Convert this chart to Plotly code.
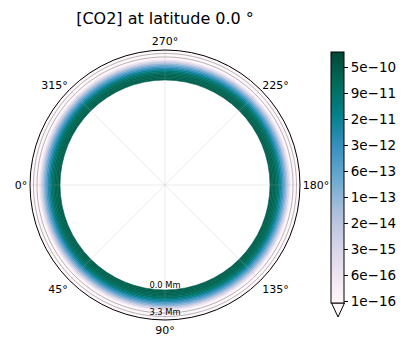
import numpy as np
import plotly.graph_objects as go

# ---- data ----
altitude_mm = [0.0, 0.2, 0.4, 0.6, 0.8, 1.0, 1.2, 1.4, 1.6, 1.8, 2.0,
               2.2, 2.4, 2.6, 2.8, 3.0, 3.2, 3.4, 3.6, 3.8, 4.0, 4.2]
co2_conc = [3.5e-10, 3.3e-10, 3.0e-10, 2.6e-10, 2.0e-10, 1.2e-10, 5e-11,
            1.8e-11, 5e-12, 1.5e-12, 4e-13, 1e-13, 2e-14, 4e-15, 6e-16,
            1e-16, 2e-17, 5e-18, 1e-18, 3e-19, 1e-19, 5e-20]
alt_top_mm = 4.3
lon_sectors = [45, 135, 225, 315]
angle_ticks = [0, 45, 90, 135, 180, 225, 270, 315]
angle_labels = ["0°", "45°", "90°", "135°", "180°", "225°", "270°", "315°"]
radial_label_r = [0.0, 3.3]
radial_label_text = ["0.0 Mm", "3.3 Mm"]
radial_grid = [3.3, 3.8]
cb_tick_log = [-15.95, -15.21, -14.47, -13.73, -12.99, -12.25, -11.51, -10.77, -10.03, -9.29]
cb_tick_text = ["1e−16", "6e−16", "3e−15", "2e−14", "1e−13", "6e−13",
                "3e−12", "2e−11", "9e−11", "5e−10"]
cmin, cmax = -16.0, -8.85

W, H = 411, 351
FONT = "DejaVu Sans"

logc = np.log10(np.array(co2_conc))
edges = altitude_mm[1:] + [alt_top_mm]
thick = [e - b for b, e in zip(altitude_mm, edges)]

th, rr, bb, cc = [], [], [], []
for b, t, c in zip(altitude_mm, thick, logc):
    for lon in lon_sectors:
        th.append(lon)
        rr.append(t)
        bb.append(b)
        cc.append(c)

rmin = -(105 / 135) * alt_top_mm / (1 - 105 / 135)

fig = go.Figure()
fig.add_trace(go.Barpolar(
    theta=th, r=rr, base=bb, width=[90] * len(th),
    marker=dict(
        color=cc, colorscale="PuBuGn", cmin=cmin, cmax=cmax,
        line=dict(color=cc, colorscale="PuBuGn", cmin=cmin, cmax=cmax, width=0.6),
        showscale=True,
        colorbar=dict(
            x=331 / W, xanchor="left", xpad=0,
            y=1 - 177.5 / H, yanchor="middle", ypad=0,
            len=251, lenmode="pixels", thickness=13, thicknessmode="pixels",
            outlinecolor="black", outlinewidth=1,
            tickmode="array", tickvals=cb_tick_log, ticktext=cb_tick_text,
            ticks="outside", ticklen=4, tickwidth=1, tickcolor="black",
            tickfont=dict(family=FONT, size=13.5, color="black"),
        ),
    ),
    hoverinfo="skip", showlegend=False,
))

# grid drawn above the data (as in the reference)
circle_theta = np.linspace(0, 360, 361)
for rg in radial_grid:
    fig.add_trace(go.Scatterpolar(
        r=[rg] * len(circle_theta), theta=circle_theta, mode="lines",
        line=dict(color="#a0a0a0", width=0.8),
        hoverinfo="skip", showlegend=False,
    ))
for a in angle_ticks:
    fig.add_trace(go.Scatterpolar(
        r=[rmin, alt_top_mm], theta=[a, a], mode="lines",
        line=dict(color="rgba(176,176,176,0.25)", width=1),
        hoverinfo="skip", showlegend=False,
    ))

fig.add_trace(go.Scatterpolar(
    r=radial_label_r, theta=[90, 90], mode="text", text=radial_label_text,
    textposition=["top center", "middle center"],
    textfont=dict(family=FONT, size=8.3, color="black"),
    hoverinfo="skip", showlegend=False,
))

# extend triangle below colorbar
x0, x1 = 331.5 / W, 344.5 / W
xm = (x0 + x1) / 2
yt, ya = 1 - 303 / H, 1 - 317 / H
fig.add_shape(type="path", xref="paper", yref="paper",
              path=f"M {x0} {yt} L {x1} {yt} L {xm} {ya} Z",
              fillcolor="#fff7fb", line=dict(color="black", width=1))

fig.update_layout(
    width=W, height=H, margin=dict(l=0, r=0, t=0, b=0),
    paper_bgcolor="white", plot_bgcolor="white",
    font=dict(family=FONT, color="black"),
    title=dict(text="[CO2] at latitude 0.0 °", x=165 / W, xanchor="center",
               y=1 - 18 / H, yanchor="middle",
               font=dict(family=FONT, size=16, color="black")),
    polar=dict(
        domain=dict(x=[30 / W, 300 / W], y=[31 / H, 301 / H]),
        bgcolor="white",
        barmode="overlay",
        angularaxis=dict(
            rotation=180, direction="counterclockwise",
            tickmode="array", tickvals=angle_ticks, ticktext=angle_labels,
            ticks="", showline=True, linecolor="black", linewidth=1,
            showgrid=False,
            tickfont=dict(family=FONT, size=11, color="black"),
        ),
        radialaxis=dict(
            range=[rmin, alt_top_mm], tickmode="array", tickvals=radial_grid,
            showticklabels=False, ticks="", showline=False, showgrid=False,
        ),
    ),
)
fig.write_html("out.html")
